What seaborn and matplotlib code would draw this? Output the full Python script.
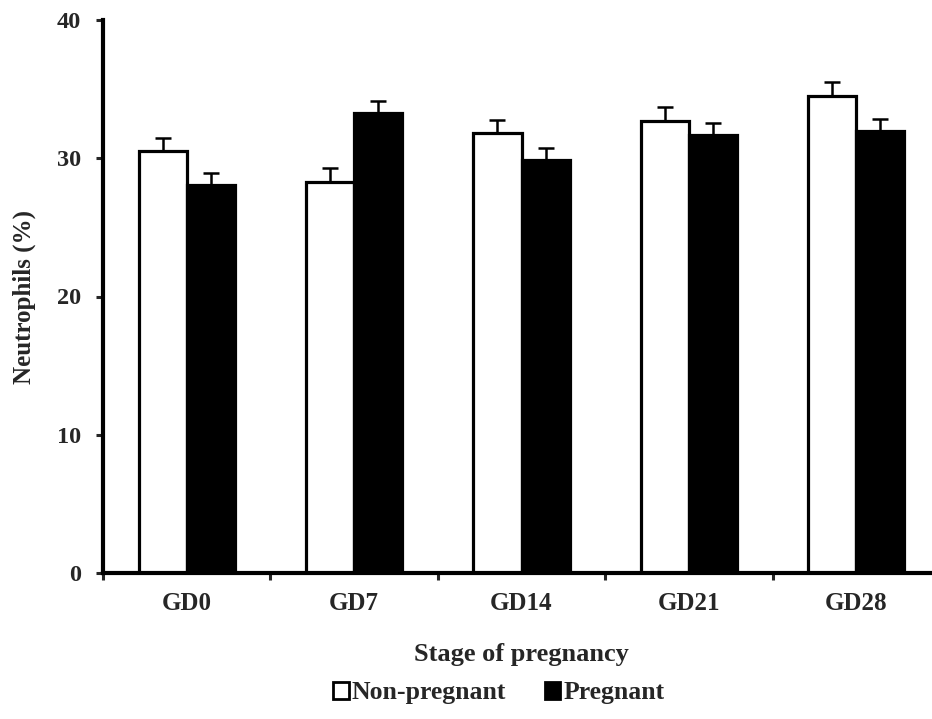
import numpy as np
import pandas as pd
import matplotlib
matplotlib.use("Agg")
import matplotlib.pyplot as plt
import seaborn as sns
from matplotlib.patches import Patch
from matplotlib.ticker import FixedLocator

# Neutrophils (%) by stage of pregnancy
stages = ["GD0", "GD7", "GD14", "GD21", "GD28"]
groups = ["Non-pregnant", "Pregnant"]
non_pregnant = [30.5, 28.3, 31.8, 32.7, 34.5]
pregnant = [28.1, 33.3, 29.9, 31.7, 32.0]
err_non_pregnant = [1.0, 1.0, 0.95, 1.0, 1.0]
err_pregnant = [0.85, 0.85, 0.85, 0.85, 0.85]

df = pd.DataFrame({
    "Stage": stages * 2,
    "Group": [groups[0]] * len(stages) + [groups[1]] * len(stages),
    "Value": non_pregnant + pregnant,
})

sns.set_style("white")
plt.rcParams["font.family"] = ["Liberation Serif", "DejaVu Serif"]
plt.rcParams["font.weight"] = "bold"

fig = plt.figure(figsize=(9.32, 7.19), dpi=100)
ax = fig.add_axes([103 / 932, 1 - 573 / 719, (940 - 103) / 932, (573 - 20) / 719])

sns.barplot(data=df, x="Stage", y="Value", hue="Group", order=stages, hue_order=groups,
            palette=["white", "black"], width=0.575, edgecolor="black", linewidth=2.3,
            errorbar=None, legend=False, ax=ax)

# one-sided error bars on top of each bar
for cont, errs in zip(ax.containers, [err_non_pregnant, err_pregnant]):
    xs = [p.get_x() + p.get_width() / 2 for p in cont.patches]
    ys = [p.get_height() for p in cont.patches]
    ax.errorbar(xs, ys, yerr=[np.zeros(len(errs)), errs], fmt="none", ecolor="black",
                elinewidth=1.8, capsize=5.5, capthick=1.8, zorder=1)

ax.set_ylim(0, 40)
ax.set_yticks([0, 10, 20, 30, 40])
ax.set_xlim(-0.5, len(stages) - 0.5)
ax.xaxis.set_minor_locator(FixedLocator(np.arange(-0.5, len(stages), 1.0)))
ax.tick_params(axis="x", which="major", length=0, pad=14, labelsize=18)
ax.tick_params(axis="x", which="minor", length=5, width=2.2, direction="out", bottom=True)
ax.tick_params(axis="y", which="major", length=5, width=2.2, direction="out", left=True,
               pad=11, labelsize=17.5)
for lab in ax.get_xticklabels() + ax.get_yticklabels():
    lab.set_fontweight("bold")

for side in ["top", "right"]:
    ax.spines[side].set_visible(False)
for side in ["left", "bottom"]:
    ax.spines[side].set_linewidth(3)
    ax.spines[side].set_color("black")

ax.set_xlabel("Stage of pregnancy", fontsize=19, fontweight="bold", labelpad=20)
ax.set_ylabel("Neutrophils (%)", fontsize=18, fontweight="bold", labelpad=15)

handles = [Patch(facecolor="white", edgecolor="black", linewidth=2.0, label=groups[0]),
           Patch(facecolor="black", edgecolor="black", linewidth=2.0, label=groups[1])]
fig.legend(handles=handles, loc="center", bbox_to_anchor=(499 / 932, 1 - 693 / 719),
           ncol=2, frameon=False, handlelength=0.6, handleheight=0.6, handletextpad=0.12,
           columnspacing=1.5, prop={"family": "Liberation Serif", "weight": "bold", "size": 18.5})

fig.savefig("out.png", dpi=100)
